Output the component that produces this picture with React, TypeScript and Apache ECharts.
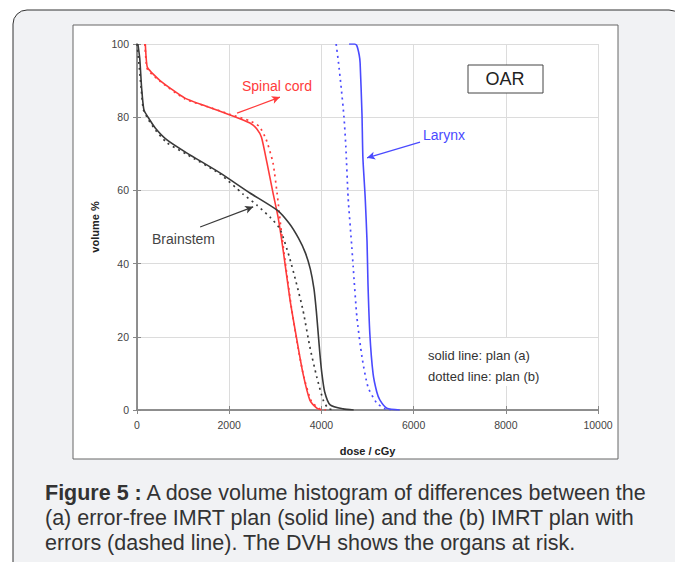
import React, { useEffect, useRef } from "react";
import * as echarts from "echarts";

const xTicks = [0, 2000, 4000, 6000, 8000, 10000];
const yTicks = [0, 20, 40, 60, 80, 100];

const spinalA: number[][] = [[180,100],[200,96],[230,93.5],[500,90],[1040,85.2],[1500,83],[2017,80.6],[2450,78.4],[2600,76.8],[2700,74.5],[2820,67.5],[2950,59.3],[3060,52.7],[3170,43.7],[3320,30],[3470,19],[3600,10],[3750,2.7],[3900,0.5],[4000,0]];
const spinalB: number[][] = [[170,100],[200,95],[230,93],[500,89.8],[1040,85],[1500,83],[2017,80.8],[2450,79],[2650,77.5],[2800,74],[2950,67.5],[3050,58],[3120,50],[3220,40],[3350,28],[3480,18],[3620,9],[3780,2.5],[3950,0.4],[4100,0]];
const brainA: number[][] = [[20,100],[60,96],[100,88],[150,82],[240,80],[400,77],[650,73.8],[1085,70.2],[1800,64.8],[2450,59.3],[3040,54.6],[3300,51],[3500,47],[3650,43],[3760,38.5],[3840,33],[3890,27],[3930,21],[3970,15],[4010,10],[4070,5],[4190,1.4],[4470,0.3],[4700,0]];
const brainB: number[][] = [[0,100],[40,95],[90,88],[140,82],[240,79.5],[400,76.5],[650,73],[1085,69.8],[1800,64.5],[2300,59],[2600,56],[2900,52.5],[3100,49.5],[3300,42],[3450,35],[3600,27.3],[3750,17.2],[3900,9],[4040,2.7],[4150,0.4],[4300,0]];
const larynxA: number[][] = [[4600,100],[4720,100],[4770,99.5],[4820,97],[4840,94.8],[4880,81],[4900,69],[4950,58],[4990,46],[5010,34.7],[5050,21],[5120,10],[5200,5],[5270,2.7],[5420,0.5],[5700,0]];
const larynxB: number[][] = [[4320,100],[4370,95],[4430,88],[4490,80],[4530,72],[4580,58],[4660,44.5],[4690,39],[4770,25.4],[4880,14.5],[5010,6.3],[5200,1.9],[5380,0.3],[5500,0]];

const RED = "#ff3b3b";
const BLUE = "#4a4aff";
const BLACK = "#3a3a3a";
const FONT = "Liberation Sans, Arial, sans-serif";

export default function App() {
  const ref = useRef<HTMLDivElement>(null);
  useEffect(() => {
    const chart = echarts.init(ref.current!, null, { renderer: "svg" });
    const solid = (name: string, data: number[][], color: string) => ({
      name, type: "line", data, showSymbol: false, smooth: 0.2, z: 3,
      lineStyle: { color, width: 1.6, type: "solid" }, silent: true,
    });
    const dashed = (name: string, data: number[][], color: string) => ({
      name, type: "line", data, showSymbol: false, smooth: 0.2, z: 3,
      lineStyle: { color, width: 1.7, type: [2, 4] }, silent: true,
    });
    const arrow = (from: number[], to: number[], color: string) => ({
      type: "line", data: [], silent: true,
      markLine: {
        silent: true, symbol: ["none", "arrow"], symbolSize: [6, 8],
        label: { show: false },
        lineStyle: { color, width: 1.2, type: "solid" },
        data: [[{ coord: from }, { coord: to }]],
      },
    });
    const fmt = (v: number) => String(v);
    const option: any = {
      animation: false,
      textStyle: { fontFamily: FONT },
      graphic: [
        { type: "rect", z: -10, shape: { x: 13, y: 10, width: 670, height: 575, r: 14 }, style: { fill: "#f1f2f4", stroke: "#333", lineWidth: 1 } },
        { type: "rect", z: -9, shape: { x: 73, y: 25, width: 545, height: 434 }, style: { fill: "#fff", stroke: "#666", lineWidth: 1 } },
        { type: "rect", z: 5, shape: { x: 423, y: 338, width: 172, height: 48 }, style: { fill: "#fff" } },
        { type: "text", z: 6, x: 428, y: 345, style: { text: "solid line: plan (a)\ndotted line: plan (b)", font: `13px ${FONT}`, fill: "#333", lineHeight: 21 } },
        { type: "rect", z: 5, shape: { x: 468, y: 65, width: 75, height: 28 }, style: { fill: "#fff", stroke: "#444", lineWidth: 1 } },
        { type: "text", z: 6, x: 505, y: 79, style: { text: "OAR", font: `18px ${FONT}`, fill: "#222", align: "center", verticalAlign: "middle" } },
        { type: "text", z: 6, x: 242, y: 86, style: { text: "Spinal cord", font: `14px ${FONT}`, fill: RED, verticalAlign: "middle" } },
        { type: "text", z: 6, x: 423, y: 135, style: { text: "Larynx", font: `14px ${FONT}`, fill: BLUE, verticalAlign: "middle" } },
        { type: "text", z: 6, x: 152, y: 239, style: { text: "Brainstem", font: `14px ${FONT}`, fill: "#444", verticalAlign: "middle" } },
        {
          type: "text", z: 6, x: 45, y: 480,
          style: {
            text: "{b|Figure 5 :} A dose volume histogram of differences between the\n(a) error-free IMRT plan (solid line) and the (b) IMRT plan with\nerrors (dashed line). The DVH shows the organs at risk.",
            font: `21.5px ${FONT}`, fill: "#333", lineHeight: 25,
            rich: { b: { font: `bold 21.5px ${FONT}`, fill: "#333", lineHeight: 25 } },
          },
        },
      ],
      grid: { left: 137, top: 44, width: 461, height: 366, show: false },
      xAxis: [
        {
          type: "value", min: 0, max: 10000, interval: 2000,
          name: "dose / cGy", nameLocation: "middle", nameGap: 35,
          nameTextStyle: { fontWeight: "bold", fontSize: 11, color: "#222", fontFamily: FONT },
          axisLine: { lineStyle: { color: "#888", width: 1.5 } },
          axisTick: { show: true, inside: true, length: 4, lineStyle: { color: "#888" } },
          axisLabel: { fontSize: 10.5, color: "#444", margin: 9, fontFamily: FONT, formatter: fmt },
          splitLine: { show: true, lineStyle: { color: "#dcdcdc", width: 1 } },
        },
        {
          type: "value", min: 0, max: 10000, interval: 2000, position: "top",
          axisLine: { show: true, lineStyle: { color: "#888", width: 1.5 } },
          axisTick: { show: true, inside: true, length: 4, lineStyle: { color: "#888" } },
          axisLabel: { show: false }, splitLine: { show: false },
        },
      ],
      yAxis: [
        {
          type: "value", min: 0, max: 100, interval: 20,
          name: "volume %", nameLocation: "middle", nameGap: 37, nameRotate: 90,
          nameTextStyle: { fontWeight: "bold", fontSize: 11, color: "#222", fontFamily: FONT },
          axisLine: { show: true, lineStyle: { color: "#888", width: 1.5 } },
          axisTick: { show: true, inside: true, length: 4, lineStyle: { color: "#888" } },
          axisLabel: { fontSize: 10.5, color: "#444", margin: 8, fontFamily: FONT, formatter: fmt },
          splitLine: { show: true, lineStyle: { color: "#dcdcdc", width: 1 } },
        },
        {
          type: "value", min: 0, max: 100, interval: 20, position: "right",
          axisLine: { show: true, lineStyle: { color: "#888", width: 1.5 } },
          axisTick: { show: true, inside: true, length: 4, lineStyle: { color: "#888" } },
          axisLabel: { show: false }, splitLine: { show: false },
        },
      ],
      series: [
        solid("Spinal cord (a)", spinalA, RED),
        dashed("Spinal cord (b)", spinalB, RED),
        solid("Brainstem (a)", brainA, BLACK),
        dashed("Brainstem (b)", brainB, BLACK),
        solid("Larynx (a)", larynxA, BLUE),
        dashed("Larynx (b)", larynxB, BLUE),
        arrow([2170, 81.1], [3100, 85.5], RED),
        arrow([6140, 73.2], [4990, 68.9], BLUE),
        arrow([1370, 50], [2520, 55.5], BLACK),
      ],
    };
    chart.setOption(option);
    return () => chart.dispose();
  }, []);
  return <div ref={ref} style={{ position: "fixed", left: 0, top: 0, width: 675, height: 562, background: "#fff" }} />;
}
